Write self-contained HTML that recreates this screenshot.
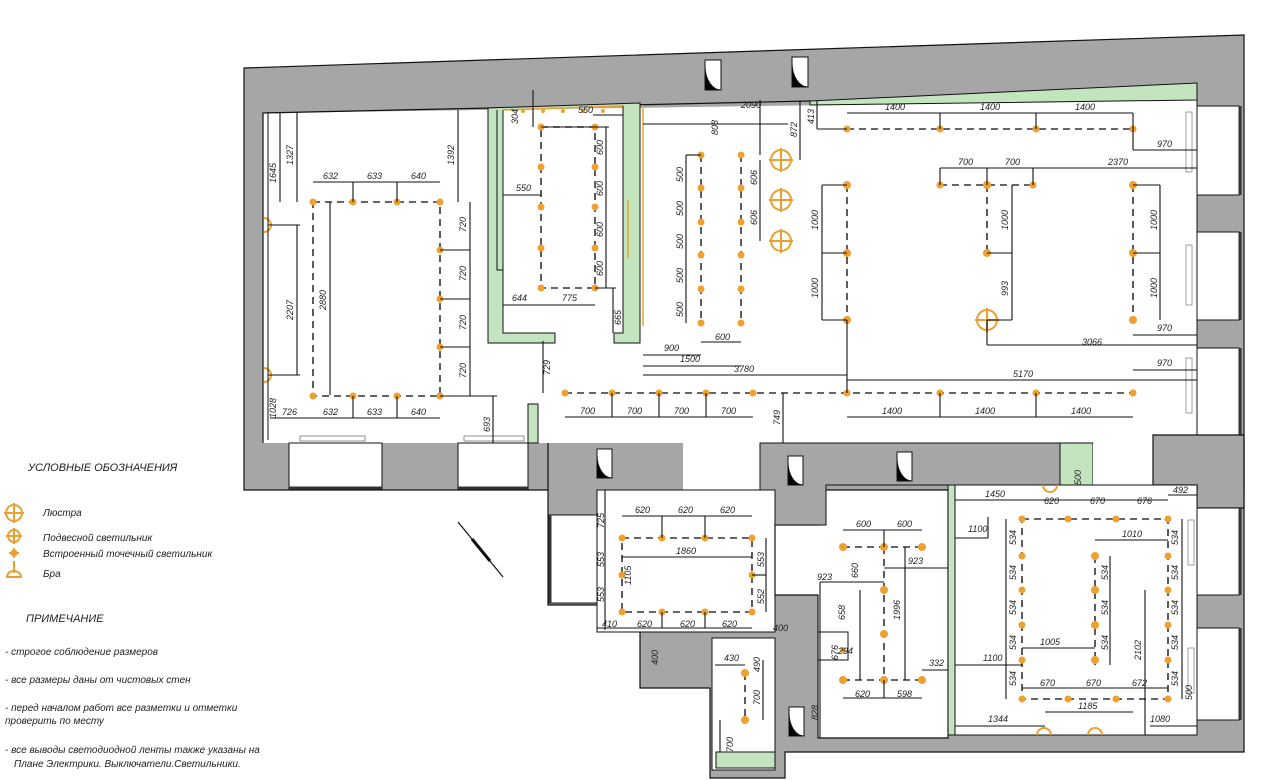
<!DOCTYPE html>
<html><head><meta charset="utf-8"><style>
html,body{margin:0;padding:0;background:#fff;width:1280px;height:780px;overflow:hidden}
svg{display:block}
text{font-family:"Liberation Sans","DejaVu Sans",sans-serif;font-style:italic;fill:#222}
.d{font-size:9px}
.dl line,.dl polyline{stroke:#111;stroke-width:1.1}
.ds{stroke:#333;stroke-width:1.6;stroke-dasharray:7 5;fill:none}
.w{fill:#a6a6a6;stroke:#111;stroke-width:1.2}
.r{fill:#fff;stroke:#111;stroke-width:1.2}
.g{fill:#c3e4bf;stroke:#111;stroke-width:1}
.o{fill:#f0a030}
.ch{fill:none;stroke:#e8a030;stroke-width:2}
.lg{font-size:10px}
</style></head><body>
<svg width="1280" height="780" viewBox="0 0 1280 780" xmlns="http://www.w3.org/2000/svg">
<!-- outer walls -->
<polygon class="w" points="244,68 1244,35 1244,490 244,490"/>
<polygon class="w" points="548,440 1244,440 1244,752 785,752 785,778 710,778 710,688 640,688 640,605 548,605"/>
<!-- main upper interior -->
<polygon class="r" points="263,113 1197,100 1197,443 760,443 760,443 263,443" style="stroke:none"/>
<polyline points="263,443 263,113 810,101" fill="none" stroke="#111" stroke-width="1.2"/>
<polygon class="g" points="810,101 1197,83 1197,100 810,105"/>
<line x1="1197" y1="100" x2="1197" y2="443" stroke="#111"/>
<!-- right windows -->
<rect x="1197" y="106" width="42" height="89" fill="#fff" stroke="#111"/>
<rect x="1197" y="232" width="42" height="88" fill="#fff" stroke="#111"/>
<rect x="1197" y="348" width="42" height="87" fill="#fff" stroke="#111"/>
<line x1="1240" y1="106" x2="1240" y2="195" stroke="#333" stroke-width="3"/>
<line x1="1240" y1="232" x2="1240" y2="320" stroke="#333" stroke-width="3"/>
<line x1="1240" y1="348" x2="1240" y2="435" stroke="#333" stroke-width="3"/>
<!-- bottom-left windows -->
<rect x="289" y="443" width="93" height="47" fill="#fff" stroke="#111"/>
<rect x="458" y="443" width="70" height="47" fill="#fff" stroke="#111"/>
<line x1="289" y1="488" x2="382" y2="488" stroke="#333" stroke-width="3"/>
<line x1="458" y1="488" x2="528" y2="488" stroke="#333" stroke-width="3"/>
<rect x="300" y="436" width="65" height="5" fill="#fff" stroke="#777" stroke-width=".8"/>
<rect x="464" y="436" width="60" height="5" fill="#fff" stroke="#777" stroke-width=".8"/>
<rect x="528" y="404" width="10" height="39" class="g"/>
<!-- corridor opening -->
<rect x="683" y="442" width="77" height="50" fill="#fff"/>
<!-- green room -->
<polygon class="g" points="488,108 640,103 640,343 614,343 614,333 623,333 623,106 503,110 503,333 555,333 555,343 488,343"/>
<line x1="643" y1="105" x2="643" y2="326" stroke="#e8a030" stroke-width="1.5"/>
<line x1="503" y1="110" x2="623" y2="106" stroke="#e8a030" stroke-width="1.5"/>
<line x1="628" y1="200" x2="628" y2="258" stroke="#e8a030" stroke-width="1.5"/>
<!-- right window radiators -->
<rect x="1186" y="112" width="6" height="60" fill="#fff" stroke="#888" stroke-width=".8"/>
<rect x="1186" y="245" width="6" height="60" fill="#fff" stroke="#888" stroke-width=".8"/>
<rect x="1186" y="358" width="6" height="55" fill="#fff" stroke="#888" stroke-width=".8"/>
<!-- lower rooms -->
<rect x="597" y="490" width="178" height="142" fill="#fff" stroke="#111"/>
<rect x="548" y="515" width="49" height="88" fill="#fff" stroke="#111"/>
<line x1="550" y1="515" x2="550" y2="603" stroke="#333" stroke-width="3"/>
<rect x="712" y="638" width="63" height="132" fill="#fff" stroke="#111"/>
<rect x="716" y="752" width="59" height="16" class="g"/>
<polygon class="r" points="775,490 948,490 948,738 818,738 818,595 775,595 775,525 818,525 818,490"/>
<polygon fill="#a6a6a6" stroke="#111" points="760,443 1060,443 1060,485 826,485 826,525 775,525 775,490 760,490"/>
<rect x="1060" y="443" width="33" height="42" class="g"/>
<rect x="1093" y="443" width="60" height="42" fill="#fff"/>
<polygon class="w" points="1153,435 1244,435 1244,508 1197,508 1197,485 1153,485"/>
<rect x="948" y="485" width="249" height="250" fill="#fff" stroke="#111"/>
<rect x="948" y="485" width="7" height="250" class="g"/>
<rect x="1197" y="508" width="42" height="87" fill="#fff" stroke="#111"/>
<rect x="1197" y="628" width="42" height="92" fill="#fff" stroke="#111"/>
<line x1="1240" y1="508" x2="1240" y2="595" stroke="#333" stroke-width="3"/>
<line x1="1240" y1="628" x2="1240" y2="720" stroke="#333" stroke-width="3"/>
<rect x="1188" y="520" width="6" height="45" fill="#fff" stroke="#888" stroke-width=".8"/>
<rect x="1188" y="648" width="6" height="45" fill="#fff" stroke="#888" stroke-width=".8"/>
<rect x="818" y="632" width="30" height="28" fill="none" stroke="#111"/>
<!-- doors -->
<g stroke="#111" stroke-width="1">
<rect x="705" y="60" width="16" height="30" fill="#fff"/><path d="M705,66 A16,24 0 0 0 721,90 L705,90Z" fill="#000"/>
<rect x="792" y="57" width="16" height="30" fill="#fff"/><path d="M792,63 A16,24 0 0 0 808,87 L792,87Z" fill="#000"/>
<rect x="597" y="449" width="15" height="29" fill="#fff"/><path d="M597,455 A15,23 0 0 0 612,478 L597,478Z" fill="#000"/>
<rect x="788" y="456" width="15" height="29" fill="#fff"/><path d="M788,462 A15,23 0 0 0 803,485 L788,485Z" fill="#000"/>
<rect x="897" y="452" width="15" height="29" fill="#fff"/><path d="M897,458 A15,23 0 0 0 912,481 L897,481Z" fill="#000"/>
<rect x="789" y="707" width="15" height="29" fill="#fff"/><path d="M789,713 A15,23 0 0 0 804,736 L789,736Z" fill="#000"/>
</g>
<!-- north arrow -->
<line x1="458" y1="522" x2="503" y2="577" stroke="#111" stroke-width="1.2"/>
<line x1="472" y1="539" x2="490" y2="561" stroke="#111" stroke-width="3"/>

<!-- dashed light lines -->
<rect class="ds" x="313" y="202" width="127" height="194"/>
<rect class="ds" x="541" y="127" width="54" height="161"/>
<line class="ds" x1="701" y1="155" x2="701" y2="323"/>
<line class="ds" x1="741" y1="155" x2="741" y2="323"/>
<line class="ds" x1="847" y1="129" x2="1133" y2="129"/>
<line class="ds" x1="847" y1="185" x2="847" y2="320"/>
<line class="ds" x1="940" y1="185" x2="1033" y2="185"/>
<line class="ds" x1="987" y1="185" x2="987" y2="253"/>
<line class="ds" x1="1133" y1="185" x2="1133" y2="320"/>
<line class="ds" x1="565" y1="393" x2="1133" y2="393"/>
<rect class="ds" x="622" y="538" width="130" height="74"/>
<line class="ds" x1="745" y1="673" x2="745" y2="720"/>
<line class="ds" x1="843" y1="547" x2="922" y2="547"/>
<line class="ds" x1="884" y1="547" x2="884" y2="680"/>
<line class="ds" x1="843" y1="680" x2="922" y2="680"/>
<rect class="ds" x="1022" y="519" width="146" height="180"/>
<line class="ds" x1="1095" y1="556" x2="1095" y2="665"/>
<!-- dots -->
<g class="o">
<circle cx="313" cy="202" r="3.5"/><circle cx="353" cy="202" r="3.5"/><circle cx="397" cy="202" r="3.5"/><circle cx="440" cy="202" r="3.5"/>
<circle cx="440" cy="250" r="3.5"/><circle cx="440" cy="299" r="3.5"/><circle cx="440" cy="347" r="3.5"/>
<circle cx="313" cy="396" r="3.5"/><circle cx="353" cy="396" r="3.5"/><circle cx="397" cy="396" r="3.5"/><circle cx="440" cy="396" r="3.5"/>
<circle cx="541" cy="127" r="3.5"/><circle cx="541" cy="167" r="3.5"/><circle cx="541" cy="207" r="3.5"/><circle cx="541" cy="248" r="3.5"/><circle cx="541" cy="288" r="3.5"/>
<circle cx="595" cy="127" r="3.5"/><circle cx="595" cy="167" r="3.5"/><circle cx="595" cy="207" r="3.5"/><circle cx="595" cy="248" r="3.5"/><circle cx="595" cy="288" r="3.5"/>
<circle cx="701" cy="155" r="3.5"/><circle cx="701" cy="188" r="3.5"/><circle cx="701" cy="222" r="3.5"/><circle cx="701" cy="255" r="3.5"/><circle cx="701" cy="289" r="3.5"/><circle cx="701" cy="323" r="3.5"/>
<circle cx="741" cy="155" r="3.5"/><circle cx="741" cy="188" r="3.5"/><circle cx="741" cy="222" r="3.5"/><circle cx="741" cy="255" r="3.5"/><circle cx="741" cy="289" r="3.5"/><circle cx="741" cy="323" r="3.5"/>
<circle cx="847" cy="129" r="3.5"/><circle cx="940" cy="129" r="3.5"/><circle cx="1036" cy="129" r="3.5"/><circle cx="1133" cy="129" r="3.5"/>
<circle cx="847" cy="185" r="4"/><circle cx="847" cy="253" r="4"/><circle cx="847" cy="320" r="4"/>
<circle cx="940" cy="185" r="3.5"/><circle cx="987" cy="185" r="4"/><circle cx="1033" cy="185" r="3.5"/><circle cx="987" cy="253" r="4"/>
<circle cx="1133" cy="185" r="4"/><circle cx="1133" cy="253" r="4"/><circle cx="1133" cy="320" r="4"/>
<circle cx="565" cy="393" r="3.5"/><circle cx="612" cy="393" r="3.5"/><circle cx="659" cy="393" r="3.5"/><circle cx="706" cy="393" r="3.5"/><circle cx="753" cy="393" r="3.5"/>
<circle cx="847" cy="393" r="3.5"/><circle cx="940" cy="393" r="3.5"/><circle cx="1036" cy="393" r="3.5"/><circle cx="1133" cy="393" r="3.5"/>
<circle cx="622" cy="538" r="3.5"/><circle cx="662" cy="538" r="3.5"/><circle cx="705" cy="538" r="3.5"/><circle cx="752" cy="538" r="3.5"/>
<circle cx="622" cy="575" r="3.5"/><circle cx="752" cy="575" r="3.5"/>
<circle cx="622" cy="612" r="3.5"/><circle cx="662" cy="612" r="3.5"/><circle cx="705" cy="612" r="3.5"/><circle cx="752" cy="612" r="3.5"/>
<circle cx="745" cy="673" r="4"/><circle cx="745" cy="720" r="4"/>
<circle cx="843" cy="547" r="4"/><circle cx="884" cy="547" r="4"/><circle cx="922" cy="547" r="4"/>
<circle cx="884" cy="590" r="4"/><circle cx="884" cy="634" r="4"/><circle cx="843" cy="650" r="3"/>
<circle cx="843" cy="680" r="4"/><circle cx="884" cy="680" r="4"/><circle cx="922" cy="680" r="4"/>
<circle cx="1022" cy="519" r="3.5"/><circle cx="1068" cy="519" r="3.5"/><circle cx="1116" cy="519" r="3.5"/><circle cx="1168" cy="519" r="3.5"/>
<circle cx="1022" cy="556" r="3.5"/><circle cx="1022" cy="590" r="3.5"/><circle cx="1022" cy="625" r="3.5"/><circle cx="1022" cy="660" r="3.5"/>
<circle cx="1168" cy="556" r="3.5"/><circle cx="1168" cy="590" r="3.5"/><circle cx="1168" cy="625" r="3.5"/><circle cx="1168" cy="660" r="3.5"/>
<circle cx="1095" cy="556" r="4"/><circle cx="1095" cy="590" r="4"/><circle cx="1095" cy="625" r="4"/><circle cx="1095" cy="660" r="4"/>
<circle cx="1022" cy="699" r="3.5"/><circle cx="1068" cy="699" r="3.5"/><circle cx="1116" cy="699" r="3.5"/><circle cx="1168" cy="699" r="3.5"/>
<circle cx="603" cy="111" r="2"/><circle cx="563" cy="111" r="2"/><circle cx="583" cy="111" r="2"/><circle cx="523" cy="111" r="2"/><circle cx="543" cy="111" r="2"/>
</g>
<!-- chandeliers & sconces -->
<g class="ch">
<circle cx="781" cy="160" r="10"/><line x1="769" y1="160" x2="793" y2="160"/><line x1="781" y1="148" x2="781" y2="172"/>
<circle cx="781" cy="200" r="10"/><line x1="769" y1="200" x2="793" y2="200"/><line x1="781" y1="188" x2="781" y2="212"/>
<circle cx="781" cy="241" r="10"/><line x1="769" y1="241" x2="793" y2="241"/><line x1="781" y1="229" x2="781" y2="253"/>
<circle cx="987" cy="320" r="10"/><line x1="975" y1="320" x2="999" y2="320"/><line x1="987" y1="308" x2="987" y2="332"/>
<path d="M264,218 A7,7 0 0 1 264,232"/><path d="M264,368 A7,7 0 0 1 264,382"/>
<path d="M1043,485 A7,7 0 0 0 1057,485"/><path d="M1037,735 A7,7 0 0 1 1051,735"/><path d="M1088,735 A7,7 0 0 1 1102,735"/>
</g>
<!-- thin room outlines -->
<g stroke="#111" stroke-width="1" fill="none">
<polyline points="503,333 503,270 497,270 497,110"/>
<polyline points="268,112 268,440"/>
</g>
<!-- dimension lines -->
<g class="dl">
<line x1="280" y1="112" x2="280" y2="202"/><line x1="297" y1="112" x2="297" y2="202"/>
<line x1="297" y1="225" x2="297" y2="375"/><line x1="268" y1="225" x2="300" y2="225"/><line x1="268" y1="375" x2="300" y2="375"/>
<line x1="313" y1="182" x2="440" y2="182"/><line x1="353" y1="182" x2="353" y2="202"/><line x1="397" y1="182" x2="397" y2="202"/>
<line x1="270" y1="418" x2="440" y2="418"/><line x1="353" y1="396" x2="353" y2="418"/><line x1="397" y1="396" x2="397" y2="418"/>
<line x1="458" y1="110" x2="458" y2="202"/><line x1="470" y1="202" x2="470" y2="396"/>
<line x1="440" y1="250" x2="470" y2="250"/><line x1="440" y1="299" x2="470" y2="299"/><line x1="440" y1="347" x2="470" y2="347"/>
<line x1="330" y1="202" x2="330" y2="395"/>
<line x1="440" y1="396" x2="497" y2="396"/><line x1="493" y1="396" x2="493" y2="443"/>
<line x1="541" y1="127" x2="609" y2="127"/><line x1="606" y1="127" x2="606" y2="288"/>
<line x1="503" y1="195" x2="541" y2="195"/><line x1="503" y1="305" x2="595" y2="305"/>
<line x1="595" y1="288" x2="616" y2="288"/><line x1="613" y1="288" x2="613" y2="333"/>
<line x1="533" y1="90" x2="533" y2="127"/><line x1="593" y1="115" x2="623" y2="115"/>
<line x1="543" y1="341" x2="543" y2="393"/>
<line x1="643" y1="355" x2="701" y2="355"/><line x1="643" y1="366" x2="741" y2="366"/><line x1="643" y1="375" x2="847" y2="375"/>
<line x1="701" y1="342" x2="741" y2="342"/>
<line x1="686" y1="155" x2="686" y2="323"/><line x1="686" y1="155" x2="701" y2="155"/>
<line x1="643" y1="124" x2="788" y2="124"/><line x1="760" y1="100" x2="760" y2="155"/>
<line x1="760" y1="160" x2="760" y2="241"/><line x1="800" y1="101" x2="800" y2="160"/>
<line x1="817" y1="101" x2="817" y2="129"/><line x1="817" y1="129" x2="847" y2="129"/>
<line x1="847" y1="113" x2="1133" y2="113"/><line x1="940" y1="113" x2="940" y2="129"/><line x1="1036" y1="113" x2="1036" y2="129"/>
<line x1="1133" y1="113" x2="1133" y2="150"/><line x1="1133" y1="150" x2="1197" y2="150"/>
<line x1="940" y1="168" x2="1197" y2="168"/><line x1="940" y1="168" x2="940" y2="185"/><line x1="987" y1="168" x2="987" y2="185"/><line x1="1033" y1="168" x2="1033" y2="185"/>
<line x1="822" y1="185" x2="822" y2="320"/><line x1="822" y1="185" x2="847" y2="185"/><line x1="822" y1="253" x2="847" y2="253"/><line x1="822" y1="320" x2="847" y2="320"/>
<line x1="1012" y1="185" x2="1012" y2="320"/><line x1="987" y1="253" x2="1012" y2="253"/><line x1="987" y1="320" x2="1012" y2="320"/>
<line x1="1160" y1="185" x2="1160" y2="320"/><line x1="1133" y1="185" x2="1160" y2="185"/><line x1="1133" y1="253" x2="1160" y2="253"/>
<line x1="1133" y1="335" x2="1197" y2="335"/><line x1="987" y1="345" x2="1197" y2="345"/><line x1="987" y1="320" x2="987" y2="345"/>
<line x1="847" y1="380" x2="1197" y2="380"/><line x1="1133" y1="370" x2="1197" y2="370"/>
<line x1="565" y1="417" x2="753" y2="417"/><line x1="612" y1="393" x2="612" y2="417"/><line x1="659" y1="393" x2="659" y2="417"/><line x1="706" y1="393" x2="706" y2="417"/>
<line x1="847" y1="417" x2="1133" y2="417"/><line x1="940" y1="393" x2="940" y2="417"/><line x1="1036" y1="393" x2="1036" y2="417"/>
<line x1="783" y1="393" x2="783" y2="443"/><line x1="847" y1="320" x2="847" y2="393"/>
<line x1="622" y1="516" x2="752" y2="516"/><line x1="662" y1="516" x2="662" y2="538"/><line x1="705" y1="516" x2="705" y2="538"/>
<line x1="622" y1="557" x2="752" y2="557"/><line x1="605" y1="490" x2="605" y2="630"/>
<line x1="766" y1="538" x2="766" y2="612"/><line x1="752" y1="575" x2="766" y2="575"/>
<line x1="597" y1="628" x2="752" y2="628"/><line x1="662" y1="612" x2="662" y2="628"/><line x1="705" y1="612" x2="705" y2="628"/>
<line x1="715" y1="665" x2="745" y2="665"/><line x1="763" y1="660" x2="763" y2="720"/><line x1="720" y1="720" x2="720" y2="752"/>
<line x1="843" y1="530" x2="922" y2="530"/><line x1="884" y1="530" x2="884" y2="547"/>
<line x1="820" y1="582" x2="884" y2="582"/><line x1="820" y1="582" x2="820" y2="738"/>
<line x1="884" y1="568" x2="948" y2="568"/><line x1="905" y1="547" x2="905" y2="680"/>
<line x1="843" y1="698" x2="922" y2="698"/><line x1="884" y1="680" x2="884" y2="698"/>
<line x1="922" y1="670" x2="948" y2="670"/><line x1="860" y1="590" x2="860" y2="680"/>
<line x1="955" y1="500" x2="1068" y2="500"/><line x1="1068" y1="500" x2="1168" y2="500"/>
<line x1="1168" y1="495" x2="1197" y2="495"/><line x1="1006" y1="519" x2="1006" y2="699"/>
<line x1="1095" y1="540" x2="1168" y2="540"/><line x1="1182" y1="519" x2="1182" y2="699"/>
<line x1="1110" y1="556" x2="1110" y2="665"/><line x1="1145" y1="590" x2="1145" y2="735"/>
<line x1="1022" y1="648" x2="1095" y2="648"/><line x1="955" y1="665" x2="1022" y2="665"/>
<line x1="1022" y1="688" x2="1168" y2="688"/><line x1="1045" y1="712" x2="1133" y2="712"/>
<line x1="955" y1="726" x2="1045" y2="726"/><line x1="1150" y1="726" x2="1197" y2="726"/>
<line x1="955" y1="538" x2="988" y2="538"/><line x1="988" y1="517" x2="988" y2="538"/>
</g>
<!-- dimension texts -->
<g class="d">
<text transform="translate(276,183) rotate(-90)">1645</text>
<text transform="translate(293,165) rotate(-90)">1327</text>
<text transform="translate(293,320) rotate(-90)">2207</text>
<text transform="translate(326,310) rotate(-90)">2880</text>
<text transform="translate(454,165) rotate(-90)">1392</text>
<text x="323" y="179">632</text><text x="367" y="179">633</text><text x="411" y="179">640</text>
<text x="323" y="415">632</text><text x="367" y="415">633</text><text x="411" y="415">640</text>
<text x="282" y="415">726</text><text transform="translate(276,418) rotate(-90)">1028</text>
<text transform="translate(466,232) rotate(-90)">720</text><text transform="translate(466,281) rotate(-90)">720</text>
<text transform="translate(466,330) rotate(-90)">720</text><text transform="translate(466,378) rotate(-90)">720</text>
<text transform="translate(490,432) rotate(-90)">693</text>
<text transform="translate(518,124) rotate(-90)">304</text><text x="578" y="113">550</text>
<text transform="translate(603,155) rotate(-90)">600</text><text transform="translate(603,196) rotate(-90)">600</text>
<text transform="translate(603,237) rotate(-90)">600</text><text transform="translate(603,276) rotate(-90)">600</text>
<text x="516" y="191">550</text><text x="512" y="301">644</text><text x="562" y="301">775</text>
<text transform="translate(621,325) rotate(-90)">665</text><text transform="translate(550,375) rotate(-90)">729</text>
<text x="664" y="351">900</text><text x="715" y="340">600</text><text x="680" y="362">1500</text><text x="734" y="372">3780</text>
<text transform="translate(683,182) rotate(-90)">500</text><text transform="translate(683,216) rotate(-90)">500</text>
<text transform="translate(683,249) rotate(-90)">500</text><text transform="translate(683,283) rotate(-90)">500</text>
<text transform="translate(683,317) rotate(-90)">500</text>
<text transform="translate(757,185) rotate(-90)">606</text><text transform="translate(757,225) rotate(-90)">606</text>
<text x="741" y="108">2090</text><text transform="translate(718,135) rotate(-90)">808</text>
<text transform="translate(797,137) rotate(-90)">872</text><text transform="translate(814,124) rotate(-90)">413</text>
<text x="885" y="110">1400</text><text x="980" y="110">1400</text><text x="1075" y="110">1400</text>
<text x="1157" y="147">970</text><text x="958" y="165">700</text><text x="1005" y="165">700</text><text x="1108" y="165">2370</text>
<text transform="translate(818,230) rotate(-90)">1000</text><text transform="translate(818,298) rotate(-90)">1000</text>
<text transform="translate(1008,230) rotate(-90)">1000</text><text transform="translate(1008,296) rotate(-90)">993</text>
<text transform="translate(1157,230) rotate(-90)">1000</text><text transform="translate(1157,298) rotate(-90)">1000</text>
<text x="1157" y="331">970</text><text x="1082" y="345">3066</text><text x="1157" y="366">970</text><text x="1013" y="377">5170</text>
<text x="580" y="414">700</text><text x="627" y="414">700</text><text x="674" y="414">700</text><text x="721" y="414">700</text>
<text x="882" y="414">1400</text><text x="975" y="414">1400</text><text x="1071" y="414">1400</text>
<text transform="translate(780,425) rotate(-90)">749</text>
<text x="635" y="513">620</text><text x="678" y="513">620</text><text x="720" y="513">620</text>
<text x="676" y="554">1860</text><text transform="translate(604,528) rotate(-90)">725</text>
<text transform="translate(604,567) rotate(-90)">553</text><text transform="translate(604,602) rotate(-90)">553</text>
<text transform="translate(631,585) rotate(-90)">1105</text>
<text transform="translate(764,567) rotate(-90)">553</text><text transform="translate(764,604) rotate(-90)">552</text>
<text x="602" y="627">410</text><text x="637" y="627">620</text><text x="680" y="627">620</text><text x="722" y="627">620</text>
<text x="773" y="631">400</text><text transform="translate(658,665) rotate(-90)">400</text>
<text x="724" y="661">430</text><text transform="translate(760,672) rotate(-90)">490</text>
<text transform="translate(760,705) rotate(-90)">700</text><text transform="translate(733,752) rotate(-90)">700</text>
<text x="856" y="527">600</text><text x="897" y="527">600</text><text x="908" y="564">923</text>
<text x="817" y="580">923</text><text transform="translate(858,578) rotate(-90)">660</text>
<text transform="translate(900,620) rotate(-90)">1996</text><text transform="translate(845,620) rotate(-90)">658</text>
<text transform="translate(838,660) rotate(-90)">676</text><text x="838" y="654">294</text>
<text x="855" y="697">620</text><text x="897" y="697">598</text><text x="929" y="666">332</text>
<text transform="translate(818,720) rotate(-90)">828</text>
<text x="985" y="497">1450</text><text x="1044" y="504">620</text><text x="1090" y="504">670</text><text x="1137" y="504">676</text>
<text x="1173" y="493">492</text><text transform="translate(1081,485) rotate(-90)">500</text><text x="968" y="532">1100</text>
<text x="1122" y="537">1010</text><text x="1040" y="645">1005</text><text x="983" y="661">1100</text>
<text transform="translate(1016,545) rotate(-90)">534</text><text transform="translate(1016,580) rotate(-90)">534</text>
<text transform="translate(1016,615) rotate(-90)">534</text><text transform="translate(1016,650) rotate(-90)">534</text><text transform="translate(1016,686) rotate(-90)">534</text>
<text transform="translate(1108,580) rotate(-90)">534</text><text transform="translate(1108,615) rotate(-90)">534</text><text transform="translate(1108,650) rotate(-90)">534</text>
<text transform="translate(1178,545) rotate(-90)">534</text><text transform="translate(1178,580) rotate(-90)">534</text>
<text transform="translate(1178,615) rotate(-90)">534</text><text transform="translate(1178,650) rotate(-90)">534</text><text transform="translate(1178,686) rotate(-90)">534</text>
<text transform="translate(1141,660) rotate(-90)">2102</text>
<text x="1040" y="686">670</text><text x="1086" y="686">670</text><text x="1132" y="686">672</text>
<text x="1078" y="709">1185</text><text x="988" y="722">1344</text><text x="1150" y="722">1080</text>
<text transform="translate(1192,700) rotate(-90)">500</text>
</g>
<!-- legend -->
<text x="28" y="471" style="font-size:11px">УСЛОВНЫЕ ОБОЗНАЧЕНИЯ</text>
<g class="ch">
<circle cx="14" cy="513" r="8"/><line x1="4" y1="513" x2="24" y2="513"/><line x1="14" y1="503" x2="14" y2="523"/>
<circle cx="14" cy="536" r="6"/><line x1="6" y1="536" x2="22" y2="536"/><line x1="14" y1="528" x2="14" y2="544"/>
<circle cx="14" cy="553" r="2.5"/><line x1="9" y1="553" x2="19" y2="553"/><line x1="14" y1="548" x2="14" y2="558"/>
<line x1="14" y1="561" x2="14" y2="573"/><path d="M7,577 A7,6 0 0 1 21,577 Z"/>
</g>
<text class="lg" x="43" y="516">Люстра</text>
<text class="lg" x="43" y="541">Подвесной светильник</text>
<text class="lg" x="43" y="557">Встроенный точечный светильник</text>
<text class="lg" x="43" y="577">Бра</text>
<text x="26" y="622" style="font-size:11px">ПРИМЕЧАНИЕ</text>
<text class="lg" x="5" y="655">- строгое соблюдение размеров</text>
<text class="lg" x="5" y="683">- все размеры даны от чистовых стен</text>
<text class="lg" x="5" y="711">- перед началом работ все разметки и отметки</text>
<text class="lg" x="5" y="724">проверить по месту</text>
<text class="lg" x="5" y="753">- все выводы светодиодной ленты также указаны на</text>
<text class="lg" x="14" y="767">Плане Электрики. Выключатели.Светильники.</text>
</svg>
</body></html>
